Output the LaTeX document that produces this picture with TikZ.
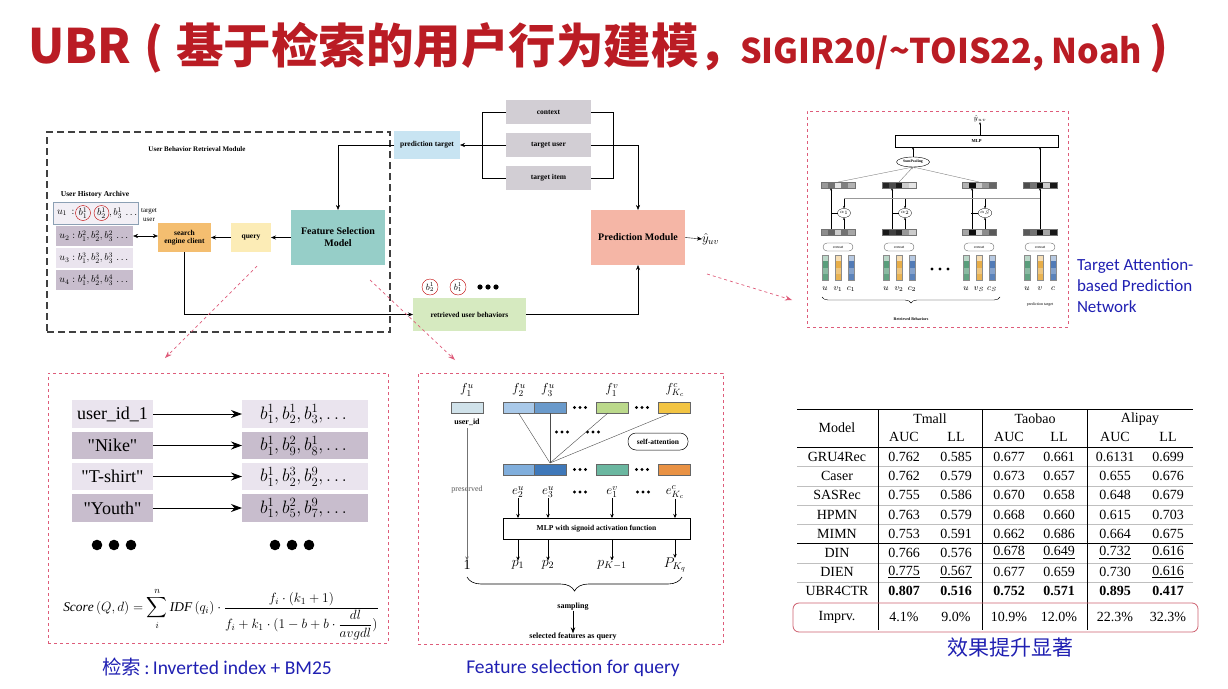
\RequirePackage{fix-cm}
\documentclass[tikz,border=0pt]{standalone}
\usepackage{amsmath}
\usepackage{fontspec}
\setmainfont{Liberation Serif}
\newfontfamily\cjk{Noto Sans CJK SC}
\newfontfamily\capfont{Carlito}
\usetikzlibrary{positioning,calc,arrows.meta,decorations.pathreplacing,shapes.geometric}

\definecolor{ubrred}{RGB}{186,28,36}
\definecolor{capblue}{RGB}{32,32,178}
\definecolor{pinkdash}{RGB}{222,92,122}
\definecolor{lavlight}{RGB}{234,228,238}
\definecolor{lavdark}{RGB}{200,189,205}
\definecolor{secorange}{RGB}{244,190,112}
\definecolor{qyellow}{RGB}{252,236,182}
\definecolor{fsteal}{RGB}{150,206,200}
\definecolor{ptblue}{RGB}{200,228,242}
\definecolor{ctxgray}{RGB}{210,206,212}
\definecolor{pmsalmon}{RGB}{245,182,166}
\definecolor{rubgreen}{RGB}{214,234,192}
\definecolor{uedge}{RGB}{140,160,180}
\definecolor{emG}{RGB}{60,140,100}
\definecolor{emY}{RGB}{228,160,40}
\definecolor{emB}{RGB}{50,100,170}
\definecolor{imprv}{RGB}{205,95,110}

\begin{document}
\begin{tikzpicture}[x=1pt, y=-1pt,
  >={Stealth[length=5pt,width=4pt]},
  every node/.style={inner sep=0pt, outer sep=0pt},
  lbl/.style={font=\bfseries\fontsize{7.5}{8.5}\selectfont, align=center},
  big/.style={font=\bfseries\fontsize{10}{12}\selectfont, align=center},
  ttl/.style={anchor=base west, text=ubrred, font=\cjk\bfseries\fontsize{47.5}{48}\selectfont},
  panel/.style={draw=pinkdash, dashed, line width=0.6pt},
  zoomarrow/.style={pinkdash, dashed, line width=0.7pt, -{Stealth[length=7pt,width=5pt]}},
  caption/.style={text=capblue, font=\capfont\fontsize{19.5}{22}\selectfont},
  keybox/.style={minimum width=81, minimum height=27.5, font=\fontsize{18}{20}\selectfont},
  listbox/.style={minimum width=126, minimum height=27.5, font=\fontsize{18}{20}\selectfont},
  bar/.style={draw=black!60, line width=0.4pt, minimum width=32, minimum height=11},
  vec/.style={draw=black!55, line width=0.3pt, minimum width=34, minimum height=6},
  tiny/.style={font=\fontsize{4}{4.5}\selectfont},
  tab/.style={font=\fontsize{14}{16}\selectfont},
  thinln/.style={black!25, line width=0.4pt},
]
\useasboundingbox (0,0) rectangle (1228,688);

% title
\node[ttl] (tubr) at (28,63) {UBR};
\node[ttl, anchor=base] (tlp) at (154,63) {(};
\node[ttl] (tzh) at (176,63) {基于检索的用户行为建模};
\node[ttl] (tcm) at (698,63) {，};
\node[ttl, font=\cjk\bfseries\fontsize{34}{34}\selectfont] (ten) at (740,63) {SIGIR20/\textasciitilde TOIS22, Noah};
\node[ttl, anchor=base] (trp) at (1159,63) {)};

% ---------- UBR framework ----------
\node[draw=black!75, line width=1.1pt, dash pattern=on 7pt off 4pt, minimum width=343, minimum height=200] (ubrm) at (218.5,232) {};
\node[font=\bfseries\fontsize{7}{8}\selectfont] (ubrmt) at (197,149) {User Behavior Retrieval Module};
\node[lbl] (uha) at (95,195) {User History Archive};

\node[draw=uedge, fill=lavlight!60, minimum width=85, minimum height=22] (u1) at (95.5,213) {};
\node[anchor=west, font=\fontsize{10}{12}\selectfont] (u1a) at (57,213) {$u_1\,:$};
\node[draw=red!75!black, circle, minimum size=15, font=\fontsize{10}{12}\selectfont] (cb1) at (83,213) {$b_1^1$};
\node[draw=red!75!black, circle, minimum size=15, font=\fontsize{10}{12}\selectfont] (cb2) at (101.5,213) {$b_2^1$};
\node[anchor=west, font=\fontsize{10}{12}\selectfont] (u1b) at (109,213) {$,b_3^1\,\dots$};
\node[fill=lavdark, minimum width=77, minimum height=20, font=\fontsize{10}{12}\selectfont] (u2) at (94.5,236) {$u_2:b_1^2,b_2^2,b_3^2\,\dots$};
\node[fill=lavlight, minimum width=77, minimum height=20, font=\fontsize{10}{12}\selectfont] (u3) at (94.5,258) {$u_3:b_1^3,b_2^3,b_3^3\,\dots$};
\node[fill=lavdark, minimum width=77, minimum height=20, font=\fontsize{10}{12}\selectfont] (u4) at (94.5,280) {$u_4:b_1^4,b_2^4,b_3^4\,\dots$};
\node[font=\fontsize{7}{8.5}\selectfont, align=center] (tgu) at (149,215) {target\\user};

\node[lbl, fill=secorange, minimum width=53, minimum height=29] (sec) at (184.5,237.5) {search\\engine client};
\node[lbl, fill=qyellow, minimum width=40, minimum height=29] (query) at (251,237.5) {query};
\node[big, fill=fsteal, minimum width=94, minimum height=55] (fsm) at (338,237.5) {Feature Selection\\Model};

\node[lbl, fill=ptblue, minimum width=66, minimum height=28] (pt) at (427,145) {prediction target};
\node[lbl, fill=ctxgray, minimum width=85, minimum height=24] (ctx) at (548.5,112) {context};
\node[lbl, fill=ctxgray, minimum width=85, minimum height=24] (tuser) at (548.5,145) {target user};
\node[lbl, fill=ctxgray, minimum width=85, minimum height=24] (titem) at (548.5,178) {target item};
\node[big, fill=pmsalmon, minimum width=94, minimum height=55] (pm) at (638,237.5) {Prediction Module};
\node[anchor=west, font=\fontsize{13}{14}\selectfont] (yhat) at (702,239) {$\hat{y}_{uv}$};
\node[lbl, fill=rubgreen, minimum width=113, minimum height=33] (rub) at (469.5,314.5) {retrieved user behaviors};
\node[draw=red!75!black, circle, minimum size=16, font=\fontsize{9}{10}\selectfont] (rb1) at (430,287) {$b_2^1$};
\node[draw=red!75!black, circle, minimum size=16, font=\fontsize{9}{10}\selectfont] (rb2) at (458,287) {$b_1^1$};
\foreach \dx in {480,488,496} \fill (\dx,287) circle (2.6);

\coordinate (lbx) at (482,0);
\coordinate (rbx) at (613,0);
\draw[<->] (u2.east) -- (u2.east -| sec.west);
\draw[->] (query) -- (sec);
\draw[->] (fsm) -- (query);
\draw[->] (pt.west) -| (fsm.north);
\draw (ctx.west) -- (ctx.west -| lbx) -- (titem.west -| lbx) -- (titem.west);
\draw (ctx.east) -- (ctx.east -| rbx) -- (titem.east -| rbx) -- (titem.east);
\draw[->] (tuser.west) -- (pt.east);
\draw[->] (tuser.east) -| (pm.north);
\draw[->] (pm.east) -- (yhat.west);
\draw[->] (sec.south) |- (rub.west);
\draw[->] (rub.east) -| (pm.south);

% zoom-in hints
\coordinate (z1s) at (257,266);
\coordinate (z1e) at (165,358);
\coordinate (z2s) at (370,280);
\coordinate (z2e) at (455,360);
\coordinate (z3s) at (707,274);
\coordinate (z3e) at (792,300);
\draw[zoomarrow] (z1s) -- (z1e);
\draw[zoomarrow] (z2s) -- (z2e);
\draw[zoomarrow] (z3s) -- (z3e);

% ---------- target attention network ----------
\node[panel, minimum width=261, minimum height=216] (tapn) at (937.5,219) {};
\foreach \gx/\tv/\bv [count=\g] in {838/{40,55,10,50,30}/{45,60,20,55,35}, 899/{85,70,90,20,10}/{90,75,85,40,20},
    979/{30,95,20,40,60}/{35,95,15,45,65}, 1040/{70,55,95,20,90}/{65,55,95,35,90}}{
  \foreach \c [count=\k] in \tv {\fill[black!\c] (\gx-17+\k*6.8-6.8,182) rectangle ++(6.8,6);}
  \foreach \c [count=\k] in \bv {\fill[black!\c] (\gx-17+\k*6.8-6.8,229) rectangle ++(6.8,6);}
  \node[vec] (t\g) at (\gx,185) {};
  \node[vec] (b\g) at (\gx,232) {};
  \node[draw=black!70, line width=0.3pt, rounded corners=4pt, minimum width=30, minimum height=8, tiny] (cc\g) at (\gx,247) {concat};
  \foreach \ox/\ec in {-13/emG, 0/emY, 13/emB}{
    \foreach \sh [count=\k] in {35,85,60,80}{\fill[\ec!\sh] (\gx+\ox-3,255+\k*6.25-6.25) rectangle ++(6,6.25);}
    \draw[black!45, line width=0.3pt] (\gx+\ox-3,255) rectangle ++(6,25);
  }
}
\foreach \gx/\vl/\cl [count=\g] in {838/v_1/c_1, 899/v_2/c_2, 979/v_S/c_S, 1040/v/c}{
  \node[font=\fontsize{8.5}{9}\selectfont] (lu\g) at (\gx-13,289) {$u$};
  \node[font=\fontsize{8.5}{9}\selectfont] (lv\g) at (\gx,289) {$\vl$};
  \node[font=\fontsize{8.5}{9}\selectfont] (lc\g) at (\gx+13,289) {$\cl$};
}
\foreach \gx/\al [count=\g] in {838/1, 899/2, 979/S}{
  \node[draw, ellipse, line width=0.3pt, minimum width=13, minimum height=9, font=\fontsize{5}{5}\selectfont] (a\g) at (\gx+6,213) {$\alpha_\al$};
}
\fill (932,269) circle (1.6); \fill (940,269) circle (1.6); \fill (948,269) circle (1.6);
\node[draw, line width=0.4pt, minimum width=163, minimum height=12, font=\bfseries\fontsize{4.5}{5}\selectfont] (mlp) at (976.5,141) {MLP};
\node[draw, ellipse, line width=0.4pt, minimum width=33, minimum height=10, font=\bfseries\fontsize{3.8}{4}\selectfont] (sp) at (913,162) {SumPooling};
\node[font=\fontsize{7}{8}\selectfont] (yh2) at (980,119) {$\hat{y}_{uv}$};
\coordinate (tl) at (1040,198);
\begin{scope}[>={Stealth[length=2.5pt,width=2pt]}, line width=0.4pt]
\foreach \g in {1,2,3}{
  \draw[->] ([xshift=-7]b\g.north) -- ([xshift=-7]t\g.south);
  \draw[->] ([xshift=6]b\g.north) -- (a\g.south);
  \draw (a\g.west) -- ++(-7,0);
  \draw[->] (a\g.north |- tl) -- (a\g.north);
  \draw[black!50, ->] (t\g.north) -- (sp.south);
}
\draw[black!40] (tl) -- (a1.north |- tl);
\draw[->] (b4.north) -- (t4.south);
\draw[->] (t4.north) -- (t4.north |- mlp.south);
\draw[->] (sp.north) -- (sp.north |- mlp.south);
\draw[->] (mlp.north -| yh2) -- (yh2.south);
\end{scope}
\draw[line width=0.4pt, decorate, decoration={brace, mirror, amplitude=6pt}] (822,297) -- (1000,297);
\node[font=\bfseries\fontsize{4}{4.5}\selectfont] (rbl) at (911,319) {Retrieved Behaviors};
\node[tiny] (ptl) at (1040,305) {prediction target};
\node[caption, font=\capfont\fontsize{17}{21}\selectfont, anchor=north west, align=left] (cap4) at (1077,259) {Target Attention-\\based Prediction\\Network};

% ---------- inverted index ----------
\node[panel, minimum width=340, minimum height=270] (iip) at (218,508) {};
\node[keybox, fill=lavlight] (k1) at (112.5,414) {user\_id\_1};
\node[keybox, fill=lavdark] (k2) at (112.5,445.5) {\textquotedbl Nike\textquotedbl};
\node[keybox, fill=lavlight] (k3) at (112.5,476.5) {\textquotedbl T-shirt\textquotedbl};
\node[keybox, fill=lavdark] (k4) at (112.5,508) {\textquotedbl Youth\textquotedbl};
\node[listbox, fill=lavlight] (l1) at (305,414) {$b_1^1, b_2^1, b_3^1, \dots$};
\node[listbox, fill=lavdark] (l2) at (305,445.5) {$b_1^1, b_9^2, b_8^1, \dots$};
\node[listbox, fill=lavlight] (l3) at (305,476.5) {$b_1^1, b_2^3, b_2^9, \dots$};
\node[listbox, fill=lavdark] (l4) at (305,508) {$b_1^1, b_5^2, b_7^9, \dots$};
\foreach \i in {1,...,4}
  \draw[line width=0.9pt, -{Stealth[length=11pt,width=8pt]}] (k\i.east) -- (l\i.west);
\foreach \dx in {97,114,131,275,292,309} \fill (\dx,545) circle (5.3);
\node[font=\fontsize{13.4}{15}\selectfont] (bm) at (221,614)
  {$\displaystyle \mathit{Score}\,(Q,d)=\sum_{i}^{n}\mathit{IDF}\,(q_i)\cdot\frac{f_i\cdot(k_1+1)}{f_i+k_1\cdot(1-b+b\cdot\dfrac{dl}{avgdl})}$};
\node[caption] (cap1) at (217,667) {{\cjk 检索}\,:\,Inverted index + BM25};

% ---------- feature selection ----------
\node[panel, minimum width=305, minimum height=271] (fsp) at (570.5,508.5) {};
\node[font=\fontsize{13}{14}\selectfont] (f1) at (467,390) {$f_1^u$};
\node[font=\fontsize{13}{14}\selectfont] (f2) at (519,390) {$f_2^u$};
\node[font=\fontsize{13}{14}\selectfont] (f3) at (548,390) {$f_3^u$};
\node[font=\fontsize{13}{14}\selectfont] (f4) at (612,390) {$f_1^v$};
\node[font=\fontsize{13}{14}\selectfont] (f5) at (675,390) {$f_{K_c}^c$};
\node[bar, fill={rgb,255:red,208;green,226;blue,234}] (tb1) at (467,407.5) {};
\node[bar, fill={rgb,255:red,169;green,201;blue,233}, minimum width=31] (tb2) at (518.5,407.5) {};
\node[bar, fill={rgb,255:red,106;green,154;blue,203}] (tb3) at (550,407.5) {};
\node[bar, fill={rgb,255:red,187;green,217;blue,139}] (tb4) at (612,407.5) {};
\node[bar, fill={rgb,255:red,242;green,196;blue,67}] (tb5) at (674,407.5) {};
\node[bar, fill={rgb,255:red,128;green,174;blue,220}, minimum width=31] (eb2) at (518.5,469.5) {};
\node[bar, fill={rgb,255:red,63;green,120;blue,185}] (eb3) at (550,469.5) {};
\node[bar, fill={rgb,255:red,107;green,183;blue,160}] (eb4) at (612,469.5) {};
\node[bar, fill={rgb,255:red,233;green,146;blue,68}] (eb5) at (674,469.5) {};
\foreach \dx/\dy in {580/407.5, 642/407.5, 562/432, 593/432, 580/469.5, 642/469.5, 580/492, 643/492}{
  \fill (\dx-5.5,\dy) circle (1.7); \fill (\dx,\dy) circle (1.7); \fill (\dx+5.5,\dy) circle (1.7);
}
\node[font=\bfseries\fontsize{8}{9}\selectfont] (uid) at (467,422) {user\_id};
\coordinate (sa) at (550,463);
\foreach \n/\xo in {tb2/0, tb3/0, tb4/-4, tb5/-3}
  \draw[black!70, line width=0.4pt] ([xshift=\xo]\n.south) -- (sa);
\node[lbl, draw, line width=0.5pt, rounded corners=8pt, minimum width=60, minimum height=17] (satt) at (658,441.5) {self-attention};
\node[font=\fontsize{13}{14}\selectfont] (e2) at (518,492) {$e_2^u$};
\node[font=\fontsize{13}{14}\selectfont] (e3) at (548,492) {$e_3^u$};
\node[font=\fontsize{13}{14}\selectfont] (e4) at (612,492) {$e_1^v$};
\node[font=\fontsize{13}{14}\selectfont] (e5) at (675,492) {$e_{K_c}^c$};
\node[text=black!65, font=\fontsize{8}{9}\selectfont] (pres) at (467,490) {preserved};
\node[lbl, draw, line width=0.5pt, minimum width=187, minimum height=21] (mlpf) at (596.5,528.5) {MLP with signoid activation function};
\node[font=\fontsize{14}{15}\selectfont] (p0) at (467,565) {1};
\node[font=\fontsize{14}{15}\selectfont] (p1) at (518,565) {$p_1$};
\node[font=\fontsize{14}{15}\selectfont] (p2) at (548,565) {$p_2$};
\node[font=\fontsize{14}{15}\selectfont] (p3) at (612,565) {$p_{K-1}$};
\node[font=\fontsize{14}{15}\selectfont] (p4) at (675,565) {$P_{K_q}$};
\begin{scope}[>={Stealth[length=4pt,width=3.5pt]}, line width=0.5pt]
\draw[black!55, ->] (uid.south |- 0,428) -- (p0.north);
\foreach \i in {2,...,5} \draw[->] (e\i.south) -- (e\i.south |- mlpf.north);
\foreach \i in {1,...,4} \draw[->] (p\i.north |- mlpf.south) -- (p\i.north);
\end{scope}
\draw[line width=0.6pt, decorate, decoration={brace, mirror, amplitude=14pt}] (467,577) -- (682,577);
\node[font=\bfseries\fontsize{8}{9}\selectfont] (samp) at (573,607) {sampling};
\node[font=\bfseries\fontsize{8}{9}\selectfont] (sel) at (573,637) {selected features as query};
\draw[line width=0.8pt, -{Stealth[length=6pt,width=4.5pt]}] (samp.south) -- (sel.north);
\node[caption] (cap2) at (573,668) {Feature selection for query};

% ---------- results table ----------
\draw[line width=0.9pt] (797,409) -- (1193,409);
\draw[line width=0.7pt] (797,447) -- (1193,447);
\foreach \yy in {466.5,486,505,524,563,582} \draw[thinln] (797,\yy) -- (1193,\yy);
\draw[line width=0.6pt] (797,543.5) -- (1193,543.5);
\foreach \xx in {878,982,1087} \draw[line width=0.5pt] (\xx,409) -- (\xx,630);
\node[tab] (hm) at (837,428) {Model};
\node[tab] (h1) at (930,419) {Tmall};
\node[tab] (h2) at (1035,419) {Taobao};
\node[tab] (h3) at (1140,419) {Alipay};
\foreach \xx/\hh [count=\j] in {904/AUC, 956/LL, 1009/AUC, 1059/LL, 1115/AUC, 1168/LL}
  \node[tab] (s\j) at (\xx,437) {\hh};
\foreach \m/\a/\b/\c/\d/\e/\f [count=\i] in {
  GRU4Rec/0.762/0.585/0.677/0.661/0.6131/0.699,
  Caser/0.762/0.579/0.673/0.657/0.655/0.676,
  SASRec/0.755/0.586/0.670/0.658/0.648/0.679,
  HPMN/0.763/0.579/0.668/0.660/0.615/0.703,
  MIMN/0.753/0.591/0.662/0.686/0.664/0.675,
  DIN/0.766/0.576/\underline{0.678}/\underline{0.649}/\underline{0.732}/\underline{0.616},
  DIEN/\underline{0.775}/\underline{0.567}/0.677/0.659/0.730/\underline{0.616},
  UBR4CTR/\textbf{0.807}/\textbf{0.516}/\textbf{0.752}/\textbf{0.571}/\textbf{0.895}/\textbf{0.417}}{
  \node[tab] (r\i m) at (837,437.85+\i*19.15) {\m};
  \node[tab] (r\i a) at (904,437.85+\i*19.15) {\a};
  \node[tab] (r\i b) at (956,437.85+\i*19.15) {\b};
  \node[tab] (r\i c) at (1009,437.85+\i*19.15) {\c};
  \node[tab] (r\i d) at (1059,437.85+\i*19.15) {\d};
  \node[tab] (r\i e) at (1115,437.85+\i*19.15) {\e};
  \node[tab] (r\i f) at (1168,437.85+\i*19.15) {\f};
}
\node[draw=imprv, line width=0.8pt, rounded corners=6pt, minimum width=405, minimum height=29] (imp) at (995.5,617.5) {};
\foreach \xx/\vv [count=\j] in {837/Imprv., 904/4.1\%, 956/9.0\%, 1009/10.9\%, 1059/12.0\%, 1115/22.3\%, 1168/32.3\%}
  \node[tab] (iv\j) at (\xx,617) {\vv};
\node[caption, font=\cjk\fontsize{21}{23}\selectfont] (cap3) at (1010,648) {效果提升显著};

\end{tikzpicture}
\end{document}
